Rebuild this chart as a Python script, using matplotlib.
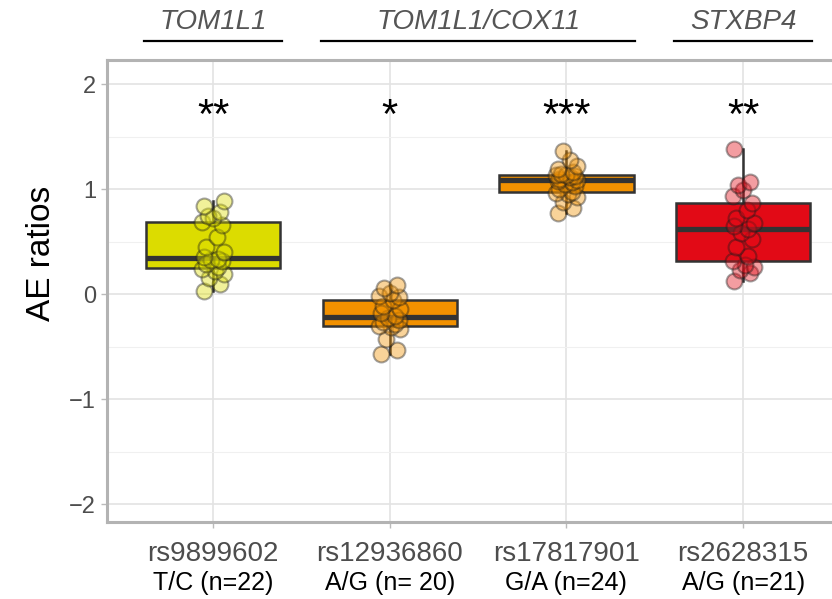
import numpy as np
import matplotlib
matplotlib.use("Agg")
import matplotlib.pyplot as plt
from matplotlib.ticker import MultipleLocator

plt.rcParams['font.family'] = ['Liberation Sans', 'DejaVu Sans']

# allelic expression ratios per SNP
snps = ["rs9899602", "rs12936860", "rs17817901", "rs2628315"]
alleles = ["T/C (n=22)", "A/G (n= 20)", "G/A (n=24)", "A/G (n=21)"]
stars = ["**", "*", "***", "**"]
box_colors = ["#DCDC00", "#F29100", "#F29100", "#E20A16"]

ae_rs9899602 = [0.03, 0.10, 0.15, 0.19, 0.22, 0.24, 0.26, 0.29, 0.31, 0.32, 0.33,
                0.35, 0.40, 0.45, 0.54, 0.66, 0.69, 0.72, 0.74, 0.78, 0.84, 0.89]
ae_rs12936860 = [-0.57, -0.53, -0.43, -0.33, -0.31, -0.30, -0.29, -0.27, -0.25, -0.23,
                 -0.21, -0.18, -0.14, -0.11, -0.06, -0.03, -0.02, 0.01, 0.06, 0.09]
ae_rs17817901 = [0.77, 0.82, 0.88, 0.92, 0.95, 0.96, 0.975, 1.00, 1.03, 1.05, 1.07, 1.08,
                 1.09, 1.10, 1.11, 1.12, 1.13, 1.135, 1.14, 1.16, 1.19, 1.22, 1.28, 1.36]
ae_rs2628315 = [0.12, 0.20, 0.23, 0.26, 0.28, 0.31, 0.36, 0.45, 0.52, 0.58, 0.62,
                0.65, 0.68, 0.72, 0.80, 0.87, 0.93, 0.99, 1.04, 1.07, 1.38]
groups = [ae_rs9899602, ae_rs12936860, ae_rs17817901, ae_rs2628315]

# gene annotations above the panel: (label, first snp index, last snp index)
genes = [("TOM1L1", 0, 0), ("TOM1L1/COX11", 1, 2), ("STXBP4", 3, 3)]

# horizontal jitter pattern for the points
jitter = [-0.05, 0.04, -0.02, 0.06, 0.01, -0.06, 0.03, -0.04, 0.05, -0.01, 0.03,
          -0.05, 0.06, -0.04, 0.02, 0.05, -0.06, 0.0, -0.03, 0.04, -0.05, 0.06, 0.02, -0.02]

fig = plt.figure(figsize=(8.32, 5.99), dpi=100)
ax = fig.add_axes([107 / 832, 1 - 522 / 599, 1 - 107 / 832 + 0.01, (522 - 60) / 599])

pos = np.arange(len(groups))
bp = ax.boxplot(groups, positions=pos, widths=0.76, patch_artist=True,
                showfliers=False, showcaps=False, whis=1.5, zorder=3,
                medianprops=dict(color="#333333", linewidth=3.8, solid_capstyle="butt"),
                whiskerprops=dict(color="#333333", linewidth=1.8),
                boxprops=dict(edgecolor="#333333", linewidth=1.8))
for patch, c in zip(bp["boxes"], box_colors):
    patch.set_facecolor(c)

for i, vals in enumerate(groups):
    xs = i + np.array(jitter[:len(vals)])
    ax.scatter(xs, vals, s=130, facecolor=box_colors[i], edgecolor="#1A1A1A",
               linewidth=1.5, alpha=0.4, zorder=4)
    ax.text(i, 1.58, stars[i], ha="center", va="baseline", fontsize=30, color="black")

ax.set_xlim(-0.6, 3.55)
ax.set_ylim(-2.171, 2.229)
ax.yaxis.set_minor_locator(MultipleLocator(0.5))
ax.set_yticks([-2, -1, 0, 1, 2])
ax.set_yticklabels(["\u22122", "\u22121", "0", "1", "2"])
ax.set_xticks(pos)
ax.set_xticklabels(snps)

ax.grid(which="major", color="#E3E3E3", linewidth=1.2, zorder=0)
ax.grid(which="minor", axis="y", color="#F0F0F0", linewidth=0.8, zorder=0)
ax.set_axisbelow(True)
ax.tick_params(axis="both", which="major", length=4, width=1, color="#BBBBBB",
               labelcolor="#4D4D4D")
ax.tick_params(axis="x", pad=10, labelsize=20)
ax.tick_params(axis="y", pad=4, labelsize=17)
ax.tick_params(which="minor", length=0)
for side in ["left", "top", "bottom"]:
    ax.spines[side].set_color("#B3B3B3")
    ax.spines[side].set_linewidth(2.2)
ax.spines["right"].set_visible(False)

for i, lab in enumerate(alleles):
    ax.annotate(lab, xy=(i, 0), xycoords=("data", "axes fraction"),
                xytext=(0, -44), textcoords="offset points", ha="center", va="center",
                fontsize=18, color="black", annotation_clip=False)

for name, a, b in genes:
    ax.plot([a - 0.39, b + 0.39], [1.041, 1.041], color="black", linewidth=1.6,
            transform=ax.get_xaxis_transform(), clip_on=False)
    ax.text((a + b) / 2, 1.082, name, transform=ax.get_xaxis_transform(),
            ha="center", va="center", fontsize=20, style="italic", color="#555555")

fig.text(42 / 832, 1 - 253 / 599, "AE ratios", rotation=90, ha="center", va="center",
         fontsize=24, color="black")

fig.savefig("out.png", dpi=100)
